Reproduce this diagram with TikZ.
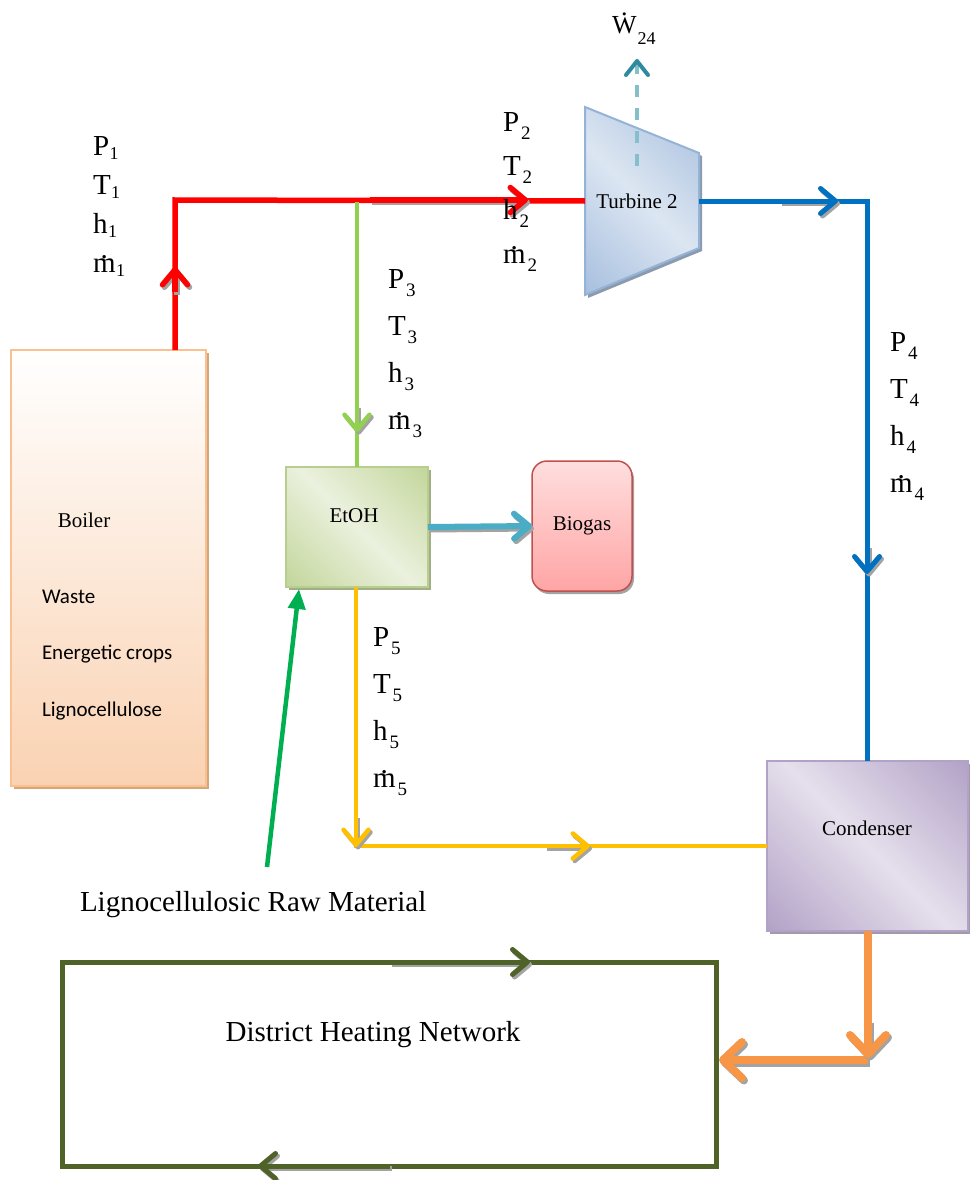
\documentclass[tikz,border=0pt]{standalone}
\usepackage{fontspec}
\setmainfont{Liberation Serif}
\newfontfamily\fuelfont{Carlito}
\usetikzlibrary{arrows.meta,shadows}

% pipe colours
\definecolor{pipered}{HTML}{FF0000}
\definecolor{pipegreen}{HTML}{92D050}
\definecolor{pipeblue}{HTML}{0070C0}
\definecolor{pipeyellow}{HTML}{FFC000}
\definecolor{pipeorange}{HTML}{F79646}
\definecolor{pipeteal}{HTML}{4BACC6}
\definecolor{rawgreen}{HTML}{00B050}
\definecolor{netolive}{HTML}{4F6228}
\definecolor{workdash}{HTML}{86BFCC}
\definecolor{workhead}{HTML}{2E8A9E}
\definecolor{arrowshade}{HTML}{A3A3A3}
% equipment colours
\definecolor{boilerline}{HTML}{FAC090}
\definecolor{boilerbot}{HTML}{FAD2B2}
\definecolor{boilershade}{HTML}{D4A67C}
\definecolor{etohline}{HTML}{B7CE8E}
\definecolor{etohshadow}{HTML}{A1AE88}
\definecolor{biotop}{HTML}{FFDEDE}
\definecolor{biobot}{HTML}{FFA5A5}
\definecolor{bioline}{HTML}{C0504D}
\definecolor{turbline}{HTML}{95B3D7}
\definecolor{turbshadow}{HTML}{8C9AAE}
\definecolor{condline}{HTML}{B3A2C7}
\definecolor{condshadow}{HTML}{A19BA9}

% diagonal band fills (dark corners, light middle band)
\pgfdeclarehorizontalshading{etohshade}{100bp}{rgb(0bp)=(0.765,0.839,0.608); rgb(15bp)=(0.765,0.839,0.608); rgb(50bp)=(0.922,0.945,0.871); rgb(85bp)=(0.765,0.839,0.608); rgb(100bp)=(0.765,0.839,0.608)}
\pgfdeclarehorizontalshading{turbshade}{100bp}{rgb(0bp)=(0.655,0.749,0.871); rgb(15bp)=(0.655,0.749,0.871); rgb(50bp)=(0.863,0.902,0.949); rgb(85bp)=(0.655,0.749,0.871); rgb(100bp)=(0.655,0.749,0.871)}
\pgfdeclarehorizontalshading{condshade}{100bp}{rgb(0bp)=(0.702,0.635,0.780); rgb(15bp)=(0.702,0.635,0.780); rgb(50bp)=(0.898,0.878,0.925); rgb(85bp)=(0.702,0.635,0.780); rgb(100bp)=(0.702,0.635,0.780)}

% dotted symbols and state subscripts
\newcommand\mdot{\ooalign{m\cr\hidewidth\raisebox{0.5em}{.}\hidewidth\cr}}
\newcommand\Wdot{\ooalign{W\cr\hidewidth\raisebox{0.7em}{.}\hidewidth\cr}}
\newcommand\stA[2]{#1\kern0.5pt\raisebox{-4pt}{\fontsize{18}{18}\selectfont #2}}
\newcommand\stB[2]{#1\kern2pt\raisebox{-8pt}{\fontsize{19}{19}\selectfont #2}}

% a flow arrow with a crisp grey offset shadow underneath
\newcommand\shadedflow[3]{%
  \begin{scope}[transform canvas={shift={(2pt,-2.5pt)}}]
    \draw[#1, draw=arrowshade] (#2) -- (#3);
  \end{scope}
  \draw[#1] (#2) -- (#3);}

\tikzset{
  vtip/.tip={Straight Barb[round, length=15pt, width=25pt]},
  vtipbig/.tip={Straight Barb[round, length=19pt, width=36pt]},
  every node/.style={inner sep=0pt, outer sep=0pt},
  boxlabel/.style={font=\fontsize{21}{25}\selectfont},
  fuel/.style={font=\fuelfont\fontsize{21}{25}\selectfont, anchor=west},
  bigtext/.style={font=\fontsize{29}{34}\selectfont},
  statestack/.style={font=\fontsize{29}{#1}\selectfont, align=left, anchor=north west},
  pipe/.style={line width=#1, line join=miter, line cap=butt},
  redpipe/.style={pipe=5.5pt, draw=pipered},
  greenpipe/.style={pipe=4.5pt, draw=pipegreen},
  bluepipe/.style={pipe=5pt, draw=pipeblue},
  yellowpipe/.style={pipe=4.5pt, draw=pipeyellow},
  orangepipe/.style={pipe=8pt, draw=pipeorange},
  tealpipe/.style={pipe=6pt, draw=pipeteal},
  rawpipe/.style={pipe=4.5pt, draw=rawgreen},
  netpipe/.style={pipe=5pt, draw=netolive},
  worklink/.style={line width=4.5pt, draw=workdash, dash pattern=on 12pt off 11pt,
    -{Straight Barb[round, length=14pt, width=22pt, color=workhead, line width=4pt]}},
  boilerbox/.style={draw=boilerline, line width=2pt, top color=white, bottom color=boilerbot,
    minimum width=195pt, minimum height=436pt,
    drop shadow={shadow xshift=3pt, shadow yshift=-3pt, fill=boilershade, opacity=1}},
  etohbox/.style={draw=etohline, line width=2pt, shade, shading=etohshade, shading angle=45,
    minimum width=142pt, minimum height=120pt,
    drop shadow={shadow xshift=3pt, shadow yshift=-3pt, fill=etohshadow, opacity=1}},
  biobox/.style={draw=bioline, line width=1.5pt, rounded corners=15pt, top color=biotop, bottom color=biobot,
    minimum width=100pt, minimum height=130pt, font=\fontsize{21}{25}\selectfont,
    drop shadow={shadow xshift=2pt, shadow yshift=-3pt, fill=arrowshade, opacity=1}},
  condbox/.style={draw=condline, line width=2pt, shade, shading=condshade, shading angle=45,
    minimum width=201pt, minimum height=170pt,
    drop shadow={shadow xshift=3pt, shadow yshift=-3pt, fill=condshadow, opacity=1}},
  turbbody/.style={draw=turbline, line width=2pt, shade, shading=turbshade, shading angle=45,
    drop shadow={shadow xshift=3pt, shadow yshift=-3pt, fill=turbshadow, opacity=1}},
  netbox/.style={draw=netolive, line width=5pt, minimum width=654pt, minimum height=204pt},
}

\begin{document}
\begin{tikzpicture}[x=1pt,y=-1pt]
\useasboundingbox (0,0) rectangle (969,1180);

% ---------- equipment ----------
\node[boilerbox] (boiler) at (108.5,568) {};
\node[boxlabel] (boilerlbl) at (84,520) {Boiler};
\node[fuel] (waste) at (42,597) {Waste};
\node[fuel] (crops) at (42,654) {Energetic crops};
\node[fuel] (ligno) at (42,711) {Lignocellulose};

\node[etohbox] (etoh) at (357,527) {};
\node[boxlabel] (etohlbl) at (354,516) {EtOH};

\node[biobox] (biogas) at (582,526) {Biogas};

\node[condbox] (condenser) at (867.5,846) {};
\node[boxlabel] (condlbl) at (867,828) {Condenser};

\node[netbox] (dhn) at (389,1064) {};
\node[bigtext] (dhnlbl) at (373,1035) {District Heating Network};

% turbine body
\coordinate (ttl) at (585,107);
\coordinate (ttr) at (699,153);
\coordinate (tbr) at (699,248);
\coordinate (tbl) at (585,295);
\path[turbbody] (ttl) -- (ttr) -- (tbr) -- (tbl) -- cycle;
\node[boxlabel] (turbine) at (637,201) {Turbine 2};

% ---------- junctions and corners ----------
\coordinate (j1) at (175,200);
\coordinate (j2) at (357,202);
\coordinate (tin) at (585,201);
\coordinate (tout) at (699,201);
\coordinate (c1) at (867,201);
\coordinate (y1) at (356,846);
\coordinate (o1) at (868,1060);
\coordinate (o2) at (719,1060);

% ---------- main pipes ----------
\draw[redpipe] (j1 |- boiler.north) -- (j1) -- (tin);
\draw[greenpipe] (j2) -- (j2 |- etoh.north);
\draw[bluepipe] (tout) -- (c1) -- (c1 |- condenser.north);
\draw[yellowpipe] (y1 |- etoh.south) -- (y1) -- (y1 -| condenser.west);
\draw[orangepipe] (o1 |- condenser.south) -- (o1);
\shadedflow{orangepipe, -vtipbig}{o1}{o2}
\shadedflow{tealpipe, -vtip}{etoh.east}{biogas.west}

% raw material feed
\coordinate (g0) at (267,867);
\coordinate (g1) at (299,589);
\draw[rawpipe, -{Triangle[length=20pt, width=17pt]}] (g0) -- (g1);
\node[bigtext, anchor=west] (rawlbl) at (80,905) {Lignocellulosic Raw Material};

% ---------- flow direction arrows ----------
\coordinate (a1s) at (175,292);  \coordinate (a1e) at (175,267);
\coordinate (a2s) at (370,200);  \coordinate (a2e) at (528,200);
\coordinate (a3s) at (357,405);  \coordinate (a3e) at (357,432);
\coordinate (a4s) at (780,201);  \coordinate (a4e) at (838,201);
\coordinate (a5s) at (867,545);  \coordinate (a5e) at (867,574);
\coordinate (a6s) at (356,815);  \coordinate (a6e) at (356,847);
\coordinate (a7s) at (545,846);  \coordinate (a7e) at (590,846);
\coordinate (a8s) at (868,1020); \coordinate (a8e) at (868,1058);
\coordinate (a9s) at (390,962);  \coordinate (a9e) at (530,962);
\coordinate (a10s) at (390,1166); \coordinate (a10e) at (258,1166);
\shadedflow{redpipe, -vtip}{a1s}{a1e}
\shadedflow{redpipe, -vtip}{a2s}{a2e}
\shadedflow{greenpipe, -vtip}{a3s}{a3e}
\shadedflow{bluepipe, -vtip}{a4s}{a4e}
\shadedflow{bluepipe, -vtip}{a5s}{a5e}
\shadedflow{yellowpipe, -vtip}{a6s}{a6e}
\shadedflow{yellowpipe, -vtip}{a7s}{a7e}
\shadedflow{orangepipe, -vtipbig}{a8s}{a8e}
\shadedflow{netpipe, -vtip}{a9s}{a9e}
\shadedflow{netpipe, -vtip}{a10s}{a10e}

% turbine work output
\coordinate (w0) at (637,166);
\coordinate (w1) at (637,59);
\draw[worklink] (w0) -- (w1);
\node[font=\fontsize{26}{30}\selectfont, anchor=base west] (work) at (612,34)
  {\Wdot\kern1pt\raisebox{-11pt}{\fontsize{18}{18}\selectfont 24}};

% ---------- state labels ----------
\node[statestack=39] (st1) at (93,137) {\stA{P}{1}\\\stA{T}{1}\\\stA{h}{1}\\\stA{\mdot}{1}};
\node[statestack=44] (st2) at (503,113) {\stB{P}{2}\\\stB{T}{2}\\\stB{h}{2}\\\stB{\mdot}{2}};
\node[statestack=47] (st3) at (388,270) {\stB{P}{3}\\\stB{T}{3}\\\stB{h}{3}\\\stB{\mdot}{3}};
\node[statestack=47] (st4) at (890,333) {\stB{P}{4}\\\stB{T}{4}\\\stB{h}{4}\\\stB{\mdot}{4}};
\node[statestack=47] (st5) at (373,628) {\stB{P}{5}\\\stB{T}{5}\\\stB{h}{5}\\\stB{\mdot}{5}};
\end{tikzpicture}
\end{document}
